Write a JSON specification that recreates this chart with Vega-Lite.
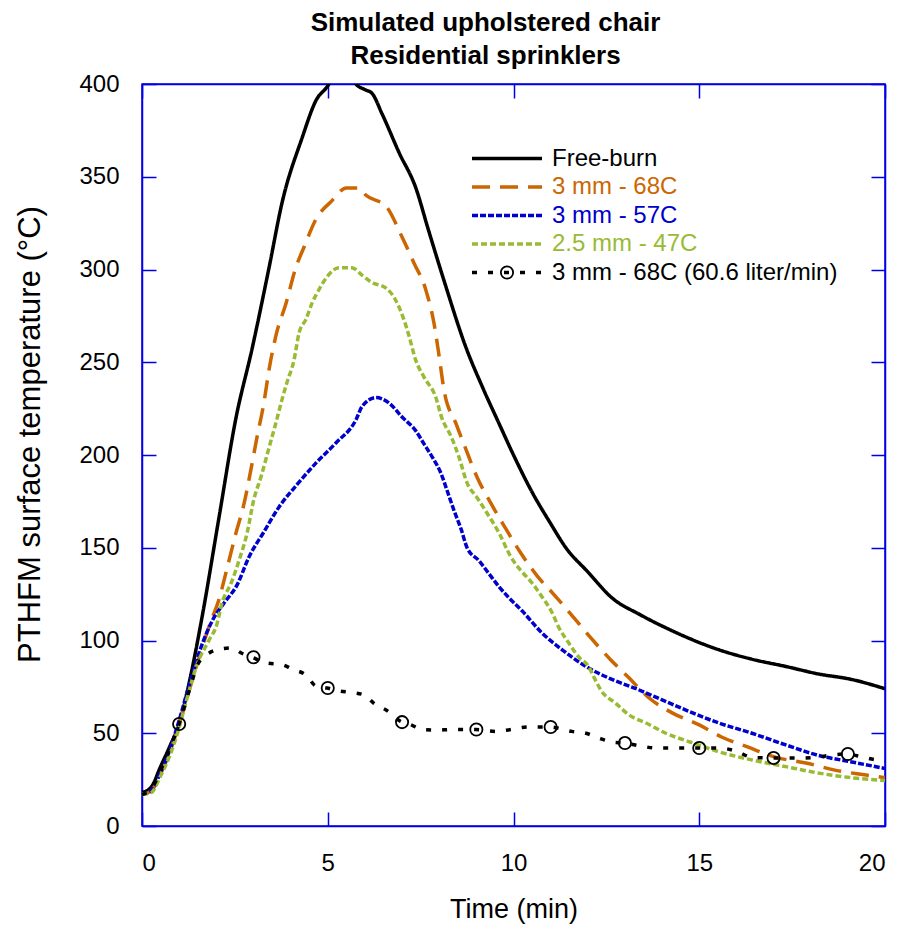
{
  "$schema": "https://vega.github.io/schema/vega-lite/v6.json",
  "width": 743,
  "height": 742,
  "autosize": {"type": "none"},
  "padding": {"left": 142, "top": 84, "right": 18, "bottom": 100},
  "background": "white",
  "config": {
    "view": {"stroke": "#0000E6", "strokeWidth": 1.5},
    "font": "Liberation Sans",
    "axis": {
      "domainColor": "#0000E6", "domainWidth": 1.5,
      "tickColor": "#0000E6", "tickWidth": 1.5, "tickSize": -14,
      "grid": false,
      "labelFont": "Liberation Sans", "labelFontSize": 24, "labelColor": "black",
      "titleFont": "Liberation Sans", "titleFontSize": 27, "titleFontWeight": "normal", "titleColor": "black"
    },
    "legend": {
      "orient": "none",
      "title": null,
      "labelFont": "Liberation Sans", "labelFontSize": 24, "labelOffset": 8,
      "clipHeight": 26, "rowPadding": 2.5, "padding": 0,
      "labelLimit": 400
    }
  },
  "title": {
    "text": ["Simulated upholstered chair", "Residential sprinklers"],
    "font": "Liberation Sans", "fontSize": 26, "fontWeight": "bold", "color": "black",
    "lineHeight": 33, "dx": -28, "offset": 3, "anchor": "middle"
  },
  "datasets": {
    "curves": [
      {"s": "Free-burn", "t": 0, "v": 18}, {"s": "Free-burn", "t": 0.25, "v": 21}, {"s": "Free-burn", "t": 0.5, "v": 32}, {"s": "Free-burn", "t": 0.75, "v": 43},
      {"s": "Free-burn", "t": 1.0, "v": 55}, {"s": "Free-burn", "t": 1.3, "v": 80}, {"s": "Free-burn", "t": 1.62, "v": 113}, {"s": "Free-burn", "t": 2.07, "v": 166},
      {"s": "Free-burn", "t": 2.53, "v": 220}, {"s": "Free-burn", "t": 2.96, "v": 257}, {"s": "Free-burn", "t": 3.42, "v": 301}, {"s": "Free-burn", "t": 3.77, "v": 336},
      {"s": "Free-burn", "t": 4.31, "v": 371}, {"s": "Free-burn", "t": 4.68, "v": 391}, {"s": "Free-burn", "t": 5.03, "v": 400}, {"s": "Free-burn", "t": 5.3, "v": 412},
      {"s": "Free-burn", "t": 5.5, "v": 415}, {"s": "Free-burn", "t": 5.76, "v": 400}, {"s": "Free-burn", "t": 6.0, "v": 397}, {"s": "Free-burn", "t": 6.19, "v": 395},
      {"s": "Free-burn", "t": 6.46, "v": 384}, {"s": "Free-burn", "t": 6.92, "v": 363}, {"s": "Free-burn", "t": 7.37, "v": 344}, {"s": "Free-burn", "t": 7.7, "v": 322},
      {"s": "Free-burn", "t": 8.13, "v": 294}, {"s": "Free-burn", "t": 8.72, "v": 258}, {"s": "Free-burn", "t": 9.2, "v": 235}, {"s": "Free-burn", "t": 9.61, "v": 217},
      {"s": "Free-burn", "t": 10.0, "v": 200}, {"s": "Free-burn", "t": 10.5, "v": 180}, {"s": "Free-burn", "t": 11.0, "v": 163}, {"s": "Free-burn", "t": 11.41, "v": 150},
      {"s": "Free-burn", "t": 12.0, "v": 137}, {"s": "Free-burn", "t": 12.65, "v": 123}, {"s": "Free-burn", "t": 13.4, "v": 114}, {"s": "Free-burn", "t": 14.19, "v": 106},
      {"s": "Free-burn", "t": 15.53, "v": 95}, {"s": "Free-burn", "t": 16.4, "v": 90}, {"s": "Free-burn", "t": 17.33, "v": 86}, {"s": "Free-burn", "t": 18.2, "v": 82},
      {"s": "Free-burn", "t": 19.1, "v": 79}, {"s": "Free-burn", "t": 20, "v": 74},

      {"s": "3 mm - 68C", "t": 0, "v": 17}, {"s": "3 mm - 68C", "t": 0.25, "v": 19}, {"s": "3 mm - 68C", "t": 0.5, "v": 28}, {"s": "3 mm - 68C", "t": 0.75, "v": 40},
      {"s": "3 mm - 68C", "t": 1.0, "v": 55}, {"s": "3 mm - 68C", "t": 1.3, "v": 75}, {"s": "3 mm - 68C", "t": 1.6, "v": 95}, {"s": "3 mm - 68C", "t": 1.85, "v": 110},
      {"s": "3 mm - 68C", "t": 2.07, "v": 122}, {"s": "3 mm - 68C", "t": 2.29, "v": 139}, {"s": "3 mm - 68C", "t": 2.53, "v": 158}, {"s": "3 mm - 68C", "t": 2.75, "v": 174},
      {"s": "3 mm - 68C", "t": 2.93, "v": 192}, {"s": "3 mm - 68C", "t": 3.1, "v": 210}, {"s": "3 mm - 68C", "t": 3.28, "v": 228}, {"s": "3 mm - 68C", "t": 3.42, "v": 246},
      {"s": "3 mm - 68C", "t": 3.6, "v": 264}, {"s": "3 mm - 68C", "t": 3.88, "v": 282}, {"s": "3 mm - 68C", "t": 4.14, "v": 301}, {"s": "3 mm - 68C", "t": 4.36, "v": 312},
      {"s": "3 mm - 68C", "t": 4.68, "v": 327}, {"s": "3 mm - 68C", "t": 5.11, "v": 337}, {"s": "3 mm - 68C", "t": 5.5, "v": 344}, {"s": "3 mm - 68C", "t": 5.84, "v": 344},
      {"s": "3 mm - 68C", "t": 6.03, "v": 340}, {"s": "3 mm - 68C", "t": 6.57, "v": 334}, {"s": "3 mm - 68C", "t": 7.0, "v": 317.5}, {"s": "3 mm - 68C", "t": 7.32, "v": 303.5},
      {"s": "3 mm - 68C", "t": 7.64, "v": 289}, {"s": "3 mm - 68C", "t": 7.86, "v": 271}, {"s": "3 mm - 68C", "t": 8.0, "v": 253}, {"s": "3 mm - 68C", "t": 8.13, "v": 235},
      {"s": "3 mm - 68C", "t": 8.45, "v": 217}, {"s": "3 mm - 68C", "t": 8.72, "v": 203}, {"s": "3 mm - 68C", "t": 9.02, "v": 188}, {"s": "3 mm - 68C", "t": 9.39, "v": 174},
      {"s": "3 mm - 68C", "t": 9.8, "v": 160}, {"s": "3 mm - 68C", "t": 10.2, "v": 147}, {"s": "3 mm - 68C", "t": 10.63, "v": 135}, {"s": "3 mm - 68C", "t": 11.1, "v": 124.5},
      {"s": "3 mm - 68C", "t": 11.68, "v": 111}, {"s": "3 mm - 68C", "t": 12.1, "v": 101}, {"s": "3 mm - 68C", "t": 12.62, "v": 89.5}, {"s": "3 mm - 68C", "t": 13.1, "v": 80},
      {"s": "3 mm - 68C", "t": 13.65, "v": 69}, {"s": "3 mm - 68C", "t": 14.27, "v": 61}, {"s": "3 mm - 68C", "t": 15.0, "v": 54.5}, {"s": "3 mm - 68C", "t": 15.6, "v": 48},
      {"s": "3 mm - 68C", "t": 16.3, "v": 42.6}, {"s": "3 mm - 68C", "t": 17.07, "v": 37}, {"s": "3 mm - 68C", "t": 17.87, "v": 34}, {"s": "3 mm - 68C", "t": 18.68, "v": 30},
      {"s": "3 mm - 68C", "t": 19.49, "v": 27.5}, {"s": "3 mm - 68C", "t": 20, "v": 26},

      {"s": "3 mm - 57C", "t": 0, "v": 17}, {"s": "3 mm - 57C", "t": 0.25, "v": 19}, {"s": "3 mm - 57C", "t": 0.5, "v": 29}, {"s": "3 mm - 57C", "t": 0.75, "v": 41},
      {"s": "3 mm - 57C", "t": 1.0, "v": 57}, {"s": "3 mm - 57C", "t": 1.3, "v": 78}, {"s": "3 mm - 57C", "t": 1.6, "v": 97}, {"s": "3 mm - 57C", "t": 1.9, "v": 111},
      {"s": "3 mm - 57C", "t": 2.2, "v": 120}, {"s": "3 mm - 57C", "t": 2.56, "v": 130}, {"s": "3 mm - 57C", "t": 2.88, "v": 145}, {"s": "3 mm - 57C", "t": 3.28, "v": 158.5},
      {"s": "3 mm - 57C", "t": 3.69, "v": 172}, {"s": "3 mm - 57C", "t": 4.17, "v": 184}, {"s": "3 mm - 57C", "t": 4.68, "v": 195.6}, {"s": "3 mm - 57C", "t": 5.22, "v": 206.5},
      {"s": "3 mm - 57C", "t": 5.76, "v": 219}, {"s": "3 mm - 57C", "t": 5.92, "v": 226}, {"s": "3 mm - 57C", "t": 6.3, "v": 231}, {"s": "3 mm - 57C", "t": 6.65, "v": 228},
      {"s": "3 mm - 57C", "t": 7.0, "v": 220.5}, {"s": "3 mm - 57C", "t": 7.37, "v": 213}, {"s": "3 mm - 57C", "t": 7.59, "v": 206}, {"s": "3 mm - 57C", "t": 7.81, "v": 199},
      {"s": "3 mm - 57C", "t": 8.05, "v": 190}, {"s": "3 mm - 57C", "t": 8.21, "v": 181}, {"s": "3 mm - 57C", "t": 8.4, "v": 170}, {"s": "3 mm - 57C", "t": 8.59, "v": 160},
      {"s": "3 mm - 57C", "t": 8.75, "v": 150}, {"s": "3 mm - 57C", "t": 9.07, "v": 143}, {"s": "3 mm - 57C", "t": 9.34, "v": 136}, {"s": "3 mm - 57C", "t": 9.61, "v": 129},
      {"s": "3 mm - 57C", "t": 9.88, "v": 123}, {"s": "3 mm - 57C", "t": 10.23, "v": 116}, {"s": "3 mm - 57C", "t": 10.77, "v": 104}, {"s": "3 mm - 57C", "t": 11.31, "v": 95},
      {"s": "3 mm - 57C", "t": 11.95, "v": 86}, {"s": "3 mm - 57C", "t": 12.65, "v": 79}, {"s": "3 mm - 57C", "t": 13.3, "v": 74}, {"s": "3 mm - 57C", "t": 14.0, "v": 68},
      {"s": "3 mm - 57C", "t": 14.64, "v": 62.5}, {"s": "3 mm - 57C", "t": 15.53, "v": 55.5}, {"s": "3 mm - 57C", "t": 16.42, "v": 50}, {"s": "3 mm - 57C", "t": 17.33, "v": 43.7},
      {"s": "3 mm - 57C", "t": 18.22, "v": 38}, {"s": "3 mm - 57C", "t": 19.11, "v": 34.5}, {"s": "3 mm - 57C", "t": 20, "v": 31},

      {"s": "2.5 mm - 47C", "t": 0, "v": 17}, {"s": "2.5 mm - 47C", "t": 0.25, "v": 18}, {"s": "2.5 mm - 47C", "t": 0.5, "v": 27}, {"s": "2.5 mm - 47C", "t": 0.75, "v": 38},
      {"s": "2.5 mm - 47C", "t": 1.0, "v": 53}, {"s": "2.5 mm - 47C", "t": 1.2, "v": 68}, {"s": "2.5 mm - 47C", "t": 1.5, "v": 88}, {"s": "2.5 mm - 47C", "t": 1.8, "v": 100},
      {"s": "2.5 mm - 47C", "t": 2.02, "v": 109}, {"s": "2.5 mm - 47C", "t": 2.15, "v": 120}, {"s": "2.5 mm - 47C", "t": 2.4, "v": 131}, {"s": "2.5 mm - 47C", "t": 2.61, "v": 143},
      {"s": "2.5 mm - 47C", "t": 2.83, "v": 158}, {"s": "2.5 mm - 47C", "t": 3.01, "v": 176}, {"s": "2.5 mm - 47C", "t": 3.2, "v": 188}, {"s": "2.5 mm - 47C", "t": 3.42, "v": 204},
      {"s": "2.5 mm - 47C", "t": 3.6, "v": 217}, {"s": "2.5 mm - 47C", "t": 3.77, "v": 230}, {"s": "2.5 mm - 47C", "t": 3.9, "v": 239}, {"s": "2.5 mm - 47C", "t": 4.09, "v": 251},
      {"s": "2.5 mm - 47C", "t": 4.23, "v": 266}, {"s": "2.5 mm - 47C", "t": 4.41, "v": 273}, {"s": "2.5 mm - 47C", "t": 4.58, "v": 282}, {"s": "2.5 mm - 47C", "t": 4.76, "v": 289},
      {"s": "2.5 mm - 47C", "t": 4.98, "v": 296}, {"s": "2.5 mm - 47C", "t": 5.3, "v": 301}, {"s": "2.5 mm - 47C", "t": 5.65, "v": 301}, {"s": "2.5 mm - 47C", "t": 5.92, "v": 297},
      {"s": "2.5 mm - 47C", "t": 6.19, "v": 293}, {"s": "2.5 mm - 47C", "t": 6.57, "v": 290}, {"s": "2.5 mm - 47C", "t": 6.84, "v": 283}, {"s": "2.5 mm - 47C", "t": 7.05, "v": 273},
      {"s": "2.5 mm - 47C", "t": 7.19, "v": 264}, {"s": "2.5 mm - 47C", "t": 7.37, "v": 251}, {"s": "2.5 mm - 47C", "t": 7.59, "v": 242}, {"s": "2.5 mm - 47C", "t": 7.91, "v": 231},
      {"s": "2.5 mm - 47C", "t": 8.07, "v": 220}, {"s": "2.5 mm - 47C", "t": 8.32, "v": 210}, {"s": "2.5 mm - 47C", "t": 8.53, "v": 199}, {"s": "2.5 mm - 47C", "t": 8.75, "v": 185},
      {"s": "2.5 mm - 47C", "t": 9.02, "v": 177}, {"s": "2.5 mm - 47C", "t": 9.29, "v": 168.6}, {"s": "2.5 mm - 47C", "t": 9.61, "v": 158}, {"s": "2.5 mm - 47C", "t": 9.93, "v": 145},
      {"s": "2.5 mm - 47C", "t": 10.23, "v": 137}, {"s": "2.5 mm - 47C", "t": 10.5, "v": 131}, {"s": "2.5 mm - 47C", "t": 10.77, "v": 123.5}, {"s": "2.5 mm - 47C", "t": 11.04, "v": 115},
      {"s": "2.5 mm - 47C", "t": 11.22, "v": 107}, {"s": "2.5 mm - 47C", "t": 11.49, "v": 98.6}, {"s": "2.5 mm - 47C", "t": 11.76, "v": 91}, {"s": "2.5 mm - 47C", "t": 12.03, "v": 85.7},
      {"s": "2.5 mm - 47C", "t": 12.17, "v": 80}, {"s": "2.5 mm - 47C", "t": 12.36, "v": 73}, {"s": "2.5 mm - 47C", "t": 12.76, "v": 66}, {"s": "2.5 mm - 47C", "t": 13.1, "v": 60},
      {"s": "2.5 mm - 47C", "t": 13.57, "v": 55.5}, {"s": "2.5 mm - 47C", "t": 14.1, "v": 50}, {"s": "2.5 mm - 47C", "t": 14.8, "v": 45}, {"s": "2.5 mm - 47C", "t": 15.53, "v": 40},
      {"s": "2.5 mm - 47C", "t": 16.42, "v": 35.6}, {"s": "2.5 mm - 47C", "t": 17.33, "v": 32}, {"s": "2.5 mm - 47C", "t": 18.22, "v": 28.5}, {"s": "2.5 mm - 47C", "t": 19.11, "v": 26},
      {"s": "2.5 mm - 47C", "t": 20, "v": 24.5},

      {"s": "3 mm - 68C (60.6 liter/min)", "t": 0, "v": 17}, {"s": "3 mm - 68C (60.6 liter/min)", "t": 0.25, "v": 20}, {"s": "3 mm - 68C (60.6 liter/min)", "t": 0.5, "v": 30},
      {"s": "3 mm - 68C (60.6 liter/min)", "t": 0.75, "v": 42}, {"s": "3 mm - 68C (60.6 liter/min)", "t": 1.0, "v": 55}, {"s": "3 mm - 68C (60.6 liter/min)", "t": 1.3, "v": 75},
      {"s": "3 mm - 68C (60.6 liter/min)", "t": 1.5, "v": 87}, {"s": "3 mm - 68C (60.6 liter/min)", "t": 1.72, "v": 92}, {"s": "3 mm - 68C (60.6 liter/min)", "t": 2.02, "v": 95},
      {"s": "3 mm - 68C (60.6 liter/min)", "t": 2.4, "v": 96}, {"s": "3 mm - 68C (60.6 liter/min)", "t": 2.7, "v": 93}, {"s": "3 mm - 68C (60.6 liter/min)", "t": 2.96, "v": 91},
      {"s": "3 mm - 68C (60.6 liter/min)", "t": 3.33, "v": 88}, {"s": "3 mm - 68C (60.6 liter/min)", "t": 3.77, "v": 87}, {"s": "3 mm - 68C (60.6 liter/min)", "t": 4.04, "v": 84.6},
      {"s": "3 mm - 68C (60.6 liter/min)", "t": 4.41, "v": 81.4}, {"s": "3 mm - 68C (60.6 liter/min)", "t": 4.68, "v": 75.5}, {"s": "3 mm - 68C (60.6 liter/min)", "t": 4.98, "v": 74.4},
      {"s": "3 mm - 68C (60.6 liter/min)", "t": 5.3, "v": 72.8}, {"s": "3 mm - 68C (60.6 liter/min)", "t": 5.63, "v": 72}, {"s": "3 mm - 68C (60.6 liter/min)", "t": 5.98, "v": 70.6},
      {"s": "3 mm - 68C (60.6 liter/min)", "t": 6.25, "v": 66}, {"s": "3 mm - 68C (60.6 liter/min)", "t": 6.57, "v": 62.5}, {"s": "3 mm - 68C (60.6 liter/min)", "t": 7.0, "v": 56},
      {"s": "3 mm - 68C (60.6 liter/min)", "t": 7.19, "v": 55}, {"s": "3 mm - 68C (60.6 liter/min)", "t": 7.54, "v": 52}, {"s": "3 mm - 68C (60.6 liter/min)", "t": 7.94, "v": 51.7},
      {"s": "3 mm - 68C (60.6 liter/min)", "t": 8.32, "v": 52}, {"s": "3 mm - 68C (60.6 liter/min)", "t": 8.99, "v": 52}, {"s": "3 mm - 68C (60.6 liter/min)", "t": 9.53, "v": 51},
      {"s": "3 mm - 68C (60.6 liter/min)", "t": 9.93, "v": 52}, {"s": "3 mm - 68C (60.6 liter/min)", "t": 10.4, "v": 53.4}, {"s": "3 mm - 68C (60.6 liter/min)", "t": 10.96, "v": 53.4},
      {"s": "3 mm - 68C (60.6 liter/min)", "t": 11.57, "v": 51}, {"s": "3 mm - 68C (60.6 liter/min)", "t": 11.95, "v": 50}, {"s": "3 mm - 68C (60.6 liter/min)", "t": 12.3, "v": 47.4},
      {"s": "3 mm - 68C (60.6 liter/min)", "t": 12.65, "v": 45.3}, {"s": "3 mm - 68C (60.6 liter/min)", "t": 12.97, "v": 44.7}, {"s": "3 mm - 68C (60.6 liter/min)", "t": 13.46, "v": 43},
      {"s": "3 mm - 68C (60.6 liter/min)", "t": 13.84, "v": 42}, {"s": "3 mm - 68C (60.6 liter/min)", "t": 14.27, "v": 42}, {"s": "3 mm - 68C (60.6 liter/min)", "t": 14.99, "v": 42},
      {"s": "3 mm - 68C (60.6 liter/min)", "t": 15.53, "v": 42}, {"s": "3 mm - 68C (60.6 liter/min)", "t": 15.99, "v": 40.4}, {"s": "3 mm - 68C (60.6 liter/min)", "t": 16.42, "v": 37},
      {"s": "3 mm - 68C (60.6 liter/min)", "t": 16.96, "v": 36.7}, {"s": "3 mm - 68C (60.6 liter/min)", "t": 17.33, "v": 36.7}, {"s": "3 mm - 68C (60.6 liter/min)", "t": 17.77, "v": 36.7},
      {"s": "3 mm - 68C (60.6 liter/min)", "t": 18.22, "v": 37.2}, {"s": "3 mm - 68C (60.6 liter/min)", "t": 18.57, "v": 38.3}, {"s": "3 mm - 68C (60.6 liter/min)", "t": 18.98, "v": 38.8},
      {"s": "3 mm - 68C (60.6 liter/min)", "t": 19.38, "v": 37.2}, {"s": "3 mm - 68C (60.6 liter/min)", "t": 19.78, "v": 35.6}, {"s": "3 mm - 68C (60.6 liter/min)", "t": 20, "v": 35}
    ],
    "markers": [
      {"m": "60.6 liter/min", "t": 1, "v": 55}, {"m": "60.6 liter/min", "t": 3, "v": 91}, {"m": "60.6 liter/min", "t": 5, "v": 74.4},
      {"m": "60.6 liter/min", "t": 7, "v": 56}, {"m": "60.6 liter/min", "t": 9, "v": 52}, {"m": "60.6 liter/min", "t": 11, "v": 53.4},
      {"m": "60.6 liter/min", "t": 13, "v": 44.7}, {"m": "60.6 liter/min", "t": 15, "v": 42}, {"m": "60.6 liter/min", "t": 17, "v": 36.7},
      {"m": "60.6 liter/min", "t": 19, "v": 38.8}
    ]
  },
  "layer": [
    {
      "data": {"name": "curves"},
      "mark": {"type": "line", "clip": true, "strokeWidth": 3.5, "strokeCap": "butt", "interpolate": "monotone"},
      "encoding": {
        "x": {
          "field": "t", "type": "quantitative",
          "scale": {"domain": [0, 20], "nice": false, "zero": false},
          "axis": {"values": [0, 5, 10, 15, 20], "title": "Time (min)", "labelPadding": 58, "labelBaseline": "alphabetic", "titleBaseline": "alphabetic", "titleY": 91}
        },
        "y": {
          "field": "v", "type": "quantitative",
          "scale": {"domain": [0, 400], "nice": false},
          "axis": {"values": [0, 50, 100, 150, 200, 250, 300, 350, 400], "title": "PTHFM surface temperature (°C)", "titleFontSize": 31, "labelPadding": 37, "titleX": -112, "titleY": 350, "titleBaseline": "middle"}
        },
        "color": {
          "field": "s", "type": "nominal",
          "scale": {
            "domain": ["Free-burn", "3 mm - 68C", "3 mm - 57C", "2.5 mm - 47C", "3 mm - 68C (60.6 liter/min)"],
            "range": ["#000000", "#CC6600", "#0000CC", "#99BB33", "#000000"]
          },
          "legend": {
            "legendX": 328, "legendY": 61.5,
            "symbolType": "stroke", "symbolSize": 4900, "symbolStrokeWidth": 3.5,
            "encode": {"labels": {"update": {"fill": {"scale": "color", "field": "value"}}}}
          }
        },
        "strokeDash": {
          "field": "s", "type": "nominal",
          "scale": {
            "domain": ["Free-burn", "3 mm - 68C", "3 mm - 57C", "2.5 mm - 47C", "3 mm - 68C (60.6 liter/min)"],
            "range": [[1, 0], [18, 10], [6, 2], [6, 3], [5, 11]]
          },
          "legend": {
            "legendX": 328, "legendY": 61.5,
            "symbolType": "stroke", "symbolSize": 4900, "symbolStrokeWidth": 3.5,
            "encode": {"labels": {"update": {"fill": {"scale": "color", "field": "value"}}}}
          }
        }
      }
    },
    {
      "data": {"name": "markers"},
      "mark": {"type": "point", "size": 150, "filled": false, "stroke": "black", "strokeWidth": 1.8, "opacity": 1},
      "encoding": {
        "x": {"field": "t", "type": "quantitative", "axis": {"orient": "top", "values": [0, 5, 10, 15, 20], "labels": false, "title": null}},
        "y": {"field": "v", "type": "quantitative", "axis": {"orient": "right", "values": [0, 50, 100, 150, 200, 250, 300, 350, 400], "labels": false, "title": null}},
        "shape": {
          "field": "m", "type": "nominal",
          "scale": {"range": ["circle"]},
          "legend": {
            "legendX": 353, "legendY": 175.5,
            "symbolSize": 150, "symbolStrokeColor": "black", "symbolFillColor": "transparent", "symbolStrokeWidth": 1.8,
            "labelExpr": "''", "labelOffset": 0
          }
        }
      }
    }
  ],
  "resolve": {"axis": {"x": "independent", "y": "independent"}}
}
